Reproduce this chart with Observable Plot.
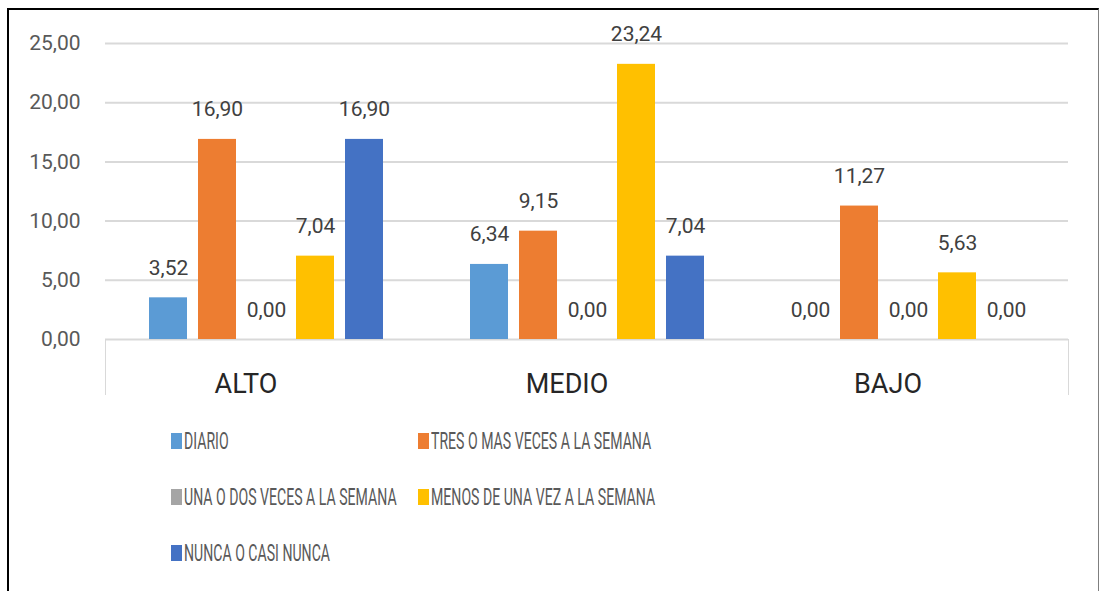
<!DOCTYPE html>
<html><head><meta charset="utf-8">
<script src="https://cdn.jsdelivr.net/npm/d3@7"></script>
<script src="https://cdn.jsdelivr.net/npm/@observablehq/plot@0.6"></script>
<style>
body{margin:0;background:#fff;width:1100px;height:591px;overflow:hidden;position:relative;font-family:Roboto, sans-serif;}
#frame{position:absolute;left:7px;top:8px;width:1089px;height:640px;border-left:2px solid #000;border-top:2px solid #000;border-right:1px solid #7f7f7f;}
#chart{position:absolute;left:0;top:0;}
#edges{position:absolute;left:105px;top:339px;width:962px;height:56px;border-left:1px solid #d9d9d9;border-right:1px solid #d9d9d9;}
.leg{position:absolute;display:flex;align-items:center;height:24px;white-space:nowrap;}
.sw{width:11px;height:16px;margin-right:2px;flex:none;}
.lt{font-size:23.5px;color:#595959;transform:scaleX(0.6);transform-origin:left center;display:inline-block;}
</style></head><body>
<div id="frame"></div>
<div id="chart"></div>
<div id="edges"></div>
<div id="legend"></div>
<script>
const categories = ["ALTO", "MEDIO", "BAJO"];
const series = ["DIARIO", "TRES O MAS VECES A LA SEMANA", "UNA O DOS VECES A LA SEMANA", "MENOS DE UNA VEZ A LA SEMANA", "NUNCA O CASI NUNCA"];
const colors = ["#5B9BD5", "#ED7D31", "#A5A5A5", "#FFC000", "#4472C4"];
const diario = [3.52, 6.34, 0.00];
const tresOMas = [16.90, 9.15, 11.27];
const unaODos = [0.00, 0.00, 0.00];
const menosDeUna = [7.04, 23.24, 5.63];
const nunca = [16.90, 7.04, 0.00];
const yTicks = [0, 5, 10, 15, 20, 25];

const values = [diario, tresOMas, unaODos, menosDeUna, nunca];
const data = categories.flatMap((c, i) => series.map((s, j) => ({cat: c, serie: s, value: values[j][i]})));
const fmt = v => d3.format(".2f")(v).replace(".", ",");

const chart = Plot.plot({
  width: 1100, height: 410,
  marginLeft: 105, marginRight: 32, marginTop: 43, marginBottom: 71,
  style: {fontFamily: "Roboto, sans-serif", background: "transparent", overflow: "visible"},
  fx: {domain: categories, padding: 0, label: null},
  x: {domain: series, paddingInner: 0.23, paddingOuter: 0.857, axis: null},
  y: {domain: [0, 25], label: null},
  color: {domain: series, range: colors},
  marks: [
    Plot.ruleY(yTicks, {y: d => d, stroke: "#d9d9d9", strokeWidth: 2}),
    Plot.barY(data, {fx: "cat", x: "serie", y: "value", fill: "serie"}),
    Plot.text(data, {fx: "cat", x: "serie", y: "value", text: d => fmt(d.value), dy: -23, lineAnchor: "bottom", fill: "#404040", fontSize: 21}),
    Plot.axisY({ticks: yTicks, tickFormat: fmt, tickSize: 0, tickPadding: 25, fontSize: 21, fill: "#595959", label: null}),
    Plot.axisFx({anchor: "bottom", tickSize: 0, tickPadding: 34, dx: -20, fontSize: 27, fill: "#262626", label: null})
  ]
});
document.getElementById("chart").appendChild(chart);

const legend = document.getElementById("legend");
const colX = [171, 418];
series.forEach((s, i) => {
  const col = i % 2, row = Math.floor(i / 2);
  const item = document.createElement("div");
  item.className = "leg";
  item.style.left = colX[col] + "px";
  item.style.top = (441 + row * 56 - 12) + "px";
  const sw = document.createElement("span");
  sw.className = "sw";
  sw.style.background = colors[i];
  const t = document.createElement("span");
  t.className = "lt";
  t.textContent = s;
  item.appendChild(sw); item.appendChild(t);
  legend.appendChild(item);
});
</script>
</body></html>
